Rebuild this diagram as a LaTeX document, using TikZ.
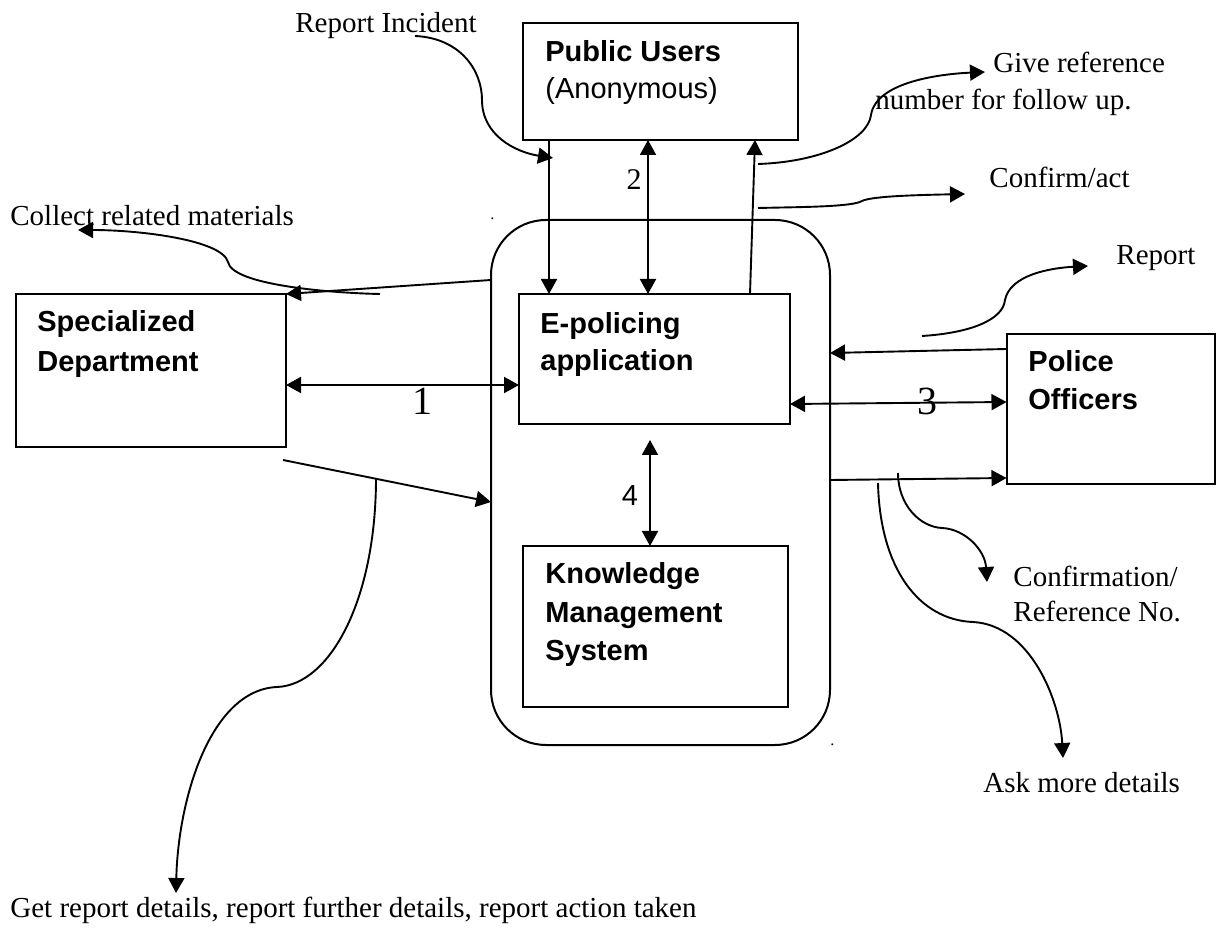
\documentclass[tikz,border=0pt]{standalone}
\usepackage{fontspec}
\setmainfont{Liberation Serif}
\newfontfamily\arialf{Liberation Sans}
\usetikzlibrary{arrows.meta}
\begin{document}
\begin{tikzpicture}[x=0.5pt,y=-0.5pt,
  box/.style={draw,line width=1pt,inner sep=0pt,outer sep=0pt},
  conn/.style={line width=0.95pt},
  arr/.style={conn,-{Triangle[length=7.5pt,width=8pt]}},
  darr/.style={conn,{Triangle[length=7.5pt,width=8pt]}-{Triangle[length=7.5pt,width=8pt]}},
  lbl/.style={anchor=base west,inner sep=0pt,font=\fontsize{14.5}{17}\selectfont},
  slbl/.style={anchor=base west,inner sep=0pt,font=\arialf\fontsize{14.5}{17}\selectfont},
  blbl/.style={anchor=base west,inner sep=0pt,font=\arialf\bfseries\fontsize{14.5}{17}\selectfont},
  num/.style={anchor=base,inner sep=0pt,font=\fontsize{20}{24}\selectfont},
]
\useasboundingbox (0,0) rectangle (1216,930);

% boxes
\node[box,minimum width=137.5pt,minimum height=58.5pt] (pub) at (660.5,81.5) {};
\node[box,rounded corners=27.5pt,minimum width=169.5pt,minimum height=262.5pt] (big) at (660.5,482.5) {};
\node[box,minimum width=135.5pt,minimum height=65pt] (epol) at (654.5,359) {};
\node[box,minimum width=132.5pt,minimum height=80.5pt] (kms) at (655.5,626.5) {};
\node[box,minimum width=135pt,minimum height=76.5pt] (spec) at (151,370.5) {};
\node[box,minimum width=104pt,minimum height=75pt] (police) at (1110.5,409) {};

% box texts
\node[blbl] (tpub1) at (545,62) {Public Users};
\node[slbl] (tpub2) at (545,99) {(Anonymous)};
\node[blbl] (tep1) at (540,334) {E-policing};
\node[blbl] (tep2) at (540,371) {application};
\node[blbl] (tkm1) at (545,583) {Knowledge};
\node[blbl] (tkm2) at (545,622) {Management};
\node[blbl] (tkm3) at (545,660) {System};
\node[blbl] (tsp1) at (37,332) {Specialized};
\node[blbl] (tsp2) at (37,372) {Department};
\node[blbl] (tpo1) at (1028,372) {Police};
\node[blbl] (tpo2) at (1028,410) {Officers};

% main connectors
\draw[arr] (549,0 |- pub.south) -- (549,0 |- epol.north);
\draw[darr] (648,0 |- pub.south) -- (648,0 |- epol.north);
\draw[arr] (750,0 |- epol.north) -- (755,0 |- pub.south);
\draw[arr] (police.west |- 0,349) -- (big.east |- 0,353);
\draw[darr] (epol.east |- 0,404) -- (police.west |- 0,402);
\draw[arr] (big.east |- 0,480) -- (police.west |- 0,478);
\draw[darr] (spec.east |- 0,385) -- (epol.west |- 0,385);
\draw[arr] (big.west |- 0,280) -- (spec.north east);
\coordinate (sdout) at (283,460);
\draw[arr] (sdout) -- (big.west |- 0,502);
\coordinate (k4) at (650,440);
\draw[darr] (k4) -- (650,0 |- kms.north);

% numbers
\node[num] (n1) at (422,415) {1};
\node[anchor=base,inner sep=0pt,font=\fontsize{15}{18}\selectfont] (n2) at (634,190) {2};
\node[num] (n3) at (927,415) {3};
\node[anchor=base,inner sep=0pt,font=\arialf\fontsize{14.5}{17}\selectfont] (n4) at (630,506) {4};

% annotation curves
\coordinate (cri) at (415,36);
\draw[arr] (cri) .. controls (460,38) and (482,70) .. (482,100) .. controls (482,135) and (515,152) .. (553,158);
\coordinate (cgr) at (758,164);
\draw[arr] (cgr) .. controls (820,162) and (868,140) .. (871,115) .. controls (876,82) and (940,74) .. (985,72);
\coordinate (cca) at (758,208);
\draw[arr] (cca) .. controls (800,207) and (852,207) .. (862,201) .. controls (872,196) and (920,195) .. (965,194);
\coordinate (crp) at (922,336);
\draw[arr] (crp) .. controls (970,333) and (1003,320) .. (1005,300) .. controls (1010,275) and (1050,268) .. (1088,266);
\coordinate (ccl) at (380,294);
\draw[arr] (ccl) .. controls (330,293) and (232,285) .. (228,262) .. controls (222,240) and (140,230) .. (78,230);
\coordinate (ccf) at (898,473);
\draw[arr] (ccf) .. controls (898,505) and (920,527) .. (942,528) .. controls (965,529) and (985,550) .. (987,582);
\coordinate (cam) at (878,483);
\draw[arr] (cam) .. controls (880,570) and (920,620) .. (973,622) .. controls (1030,625) and (1060,700) .. (1063,758);
\coordinate (cgd) at (376,478);
\draw[arr] (cgd) .. controls (376,600) and (330,685) .. (277,687) .. controls (210,690) and (178,800) .. (176,893);

% annotation texts
\node[lbl] (lri) at (295,33) {Report Incident};
\node[lbl] (lgr1) at (993,73) {Give reference};
\node[lbl] (lgr2) at (875,110) {number for follow up.};
\node[lbl] (lca) at (989,188) {Confirm/act};
\node[lbl] (lrp) at (1116,265) {Report};
\node[lbl] (lcl) at (10,226) {Collect related materials};
\node[lbl] (lcf1) at (1013,587) {Confirmation/};
\node[lbl] (lcf2) at (1013,621) {Reference No.};
\node[lbl] (lam) at (983,792) {Ask more details};
\node[lbl] (lgd) at (10,917) {Get report details, report further details, report action taken};
\node[lbl,font=\fontsize{8}{10}\selectfont] (dot1) at (490,220) {.};
\node[lbl,font=\fontsize{8}{10}\selectfont] (dot2) at (830,745) {.};
\end{tikzpicture}
\end{document}
